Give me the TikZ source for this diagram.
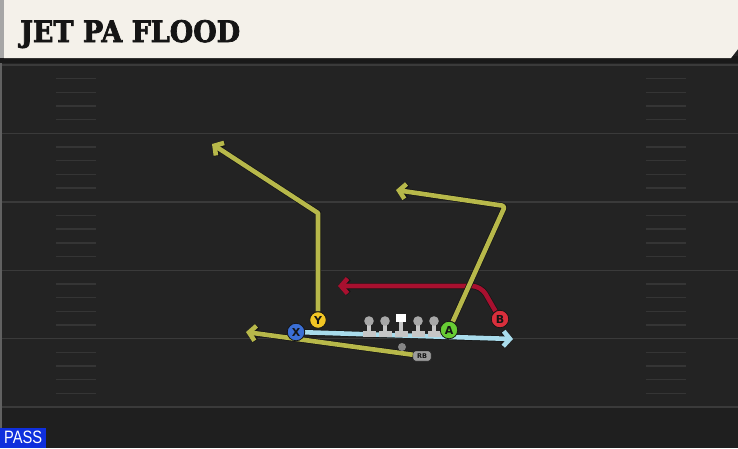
\documentclass[tikz,border=0pt]{standalone}
\usepackage{graphicx}
\usepackage{fontspec}
\setmainfont{DejaVu Sans}
\newfontfamily\titlefont[FakeBold=2.5]{DejaVu Serif}
\newfontfamily\tagfont{Liberation Sans}
\usetikzlibrary{arrows.meta}
\definecolor{field}{HTML}{232323}
\definecolor{fielddark}{HTML}{1F1F1F}
\definecolor{yard}{HTML}{3A3A3A}
\definecolor{hash}{HTML}{353535}
\definecolor{paper}{HTML}{F4F1EA}
\definecolor{ink}{HTML}{151515}
\definecolor{olive}{HTML}{B7B84A}
\definecolor{crimson}{HTML}{A8102F}
\definecolor{jet}{HTML}{A9DCEC}
\definecolor{xblue}{HTML}{3B6FD6}
\definecolor{ygold}{HTML}{F2C624}
\definecolor{agreen}{HTML}{67CC34}
\definecolor{bred}{HTML}{DA2F3C}
\definecolor{olbody}{HTML}{C6C6C6}
\definecolor{olhead}{HTML}{A8A8A8}
\definecolor{tag}{HTML}{9C9C9C}
\definecolor{passblue}{HTML}{0F2FDD}
\pgfdeclarelayer{back}
\pgfdeclarelayer{routes}
\pgfsetlayers{back,routes,main}
\tikzset{
  route/.style={line width=4.6pt, line join=round, -{Straight Barb[length=6.5pt,width=15pt]},
    preaction={draw=ink, line width=6pt}},
  player/.style={circle, draw=ink, line width=0.8pt, minimum size=17.5pt, inner sep=0pt,
    text=ink, font=\bfseries\fontsize{11}{11}\selectfont},
  rbtag/.style={rounded corners=2.5pt, fill=tag, draw=ink, line width=0.4pt, minimum width=18pt,
    minimum height=10pt, inner sep=0pt, text=ink, font=\bfseries\fontsize{6.5}{6.5}\selectfont},
  qb/.style={circle, fill=olhead!80!black, minimum size=8pt, inner sep=0pt},
  passtag/.style={fill=passblue, text=white, minimum width=46pt, minimum height=20pt, inner sep=0pt},
  lm/.pic={
    \fill[olbody] (-2.4,0) rectangle (2.4,11);
    \fill[olbody] (-6.5,10) rectangle (6.5,16);
    \fill[olhead] (0,0) circle (4.8);
  },
  ctr/.pic={
    \fill[olbody] (-2.4,0) rectangle (2.4,11);
    \fill[olbody] (-6.5,10) rectangle (6.5,16);
    \fill[white] (-4.8,-7.5) rectangle (4.8,1);
  },
}
\begin{document}
\begin{tikzpicture}[x=1pt,y=-1pt]
  \useasboundingbox (0,0) rectangle (738,448);
  \begin{pgfonlayer}{back}
    \fill[field] (0,0) rectangle (738,448);
    \fill[fielddark] (0,407) rectangle (738,448);
    \foreach \i in {0,...,4} {
      \foreach \k in {1,...,4} {
        \draw[hash, line width=1.4pt] (56,65+68.4*\i+13.68*\k) -- (96,65+68.4*\i+13.68*\k);
        \draw[hash, line width=1.4pt] (646,65+68.4*\i+13.68*\k) -- (686,65+68.4*\i+13.68*\k);
      }
    }
    \foreach \i in {0,...,5}
      \draw[yard, line width=1.4pt] (0,65+68.4*\i) -- (738,65+68.4*\i);
    \draw[yard!80!white, line width=2pt] (1,60) -- (1,448);
    \fill[black!90] (0,56) rectangle (738,63);
    \fill[paper] (4,0) -- (738,0) -- (738,49) -- (731,58) -- (4,58) -- cycle;
    \fill[black!35] (0,0) rectangle (4,58);
  \end{pgfonlayer}

  \node[anchor=base west, inner sep=0pt, text=ink] (title) at (20,42)
    {\resizebox{220pt}{22pt}{\titlefont\bfseries JET PA FLOOD}};
  \node[passtag, anchor=south west] (pass) at (0,448)
    {\resizebox{38pt}{12.5pt}{\tagfont PASS}};

  % line
  \foreach \x in {369,385,418,434}
    \pic at (\x,321) {lm};
  \pic at (401,321) {ctr};

  \node[player, fill=xblue] (X) at (296,332) {X};
  \node[player, fill=ygold, minimum size=16.5pt] (Y) at (318,320) {Y};
  \node[player, fill=agreen] (A) at (449,330) {A};
  \node[player, fill=bred] (B) at (500,319) {B};
  \node[qb] (QB) at (402,347) {};
  \node[rbtag] (RB) at (422,356) {RB};

  \coordinate (ybreak) at (318,213);
  \coordinate (yend) at (212,144);
  \coordinate (abreak) at (505,206);
  \coordinate (aend) at (396,190);
  \coordinate (bbreak) at (481,286);
  \coordinate (bend) at (338,286);
  \coordinate (rbend) at (246,332);
  \coordinate (jetend) at (513,339);

  \begin{pgfonlayer}{routes}
    \draw[route, olive] (Y) -- (ybreak) -- (yend);
    \draw[route, crimson, rounded corners=9pt] (B) -- (bbreak) -- (bend);
    \draw[route, olive, rounded corners=3pt] (A) -- (abreak) -- (aend);
    \draw[route, olive] (RB) -- (rbend);
    \draw[route, jet] (X) -- (jetend);
  \end{pgfonlayer}
\end{tikzpicture}
\end{document}
